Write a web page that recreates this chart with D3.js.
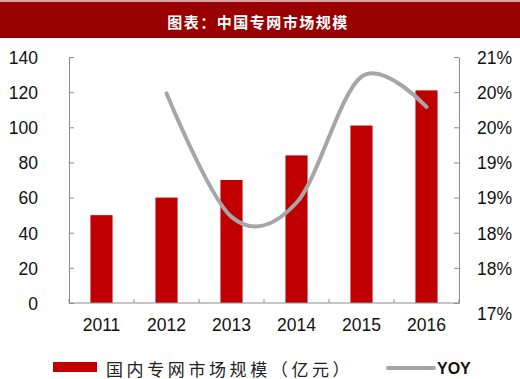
<!DOCTYPE html>
<html><head><meta charset="utf-8">
<script src="https://cdn.jsdelivr.net/npm/d3@7"></script>
<style>body{margin:0;background:#fff}svg{display:block}</style>
</head><body><svg id="c" width="520" height="379"></svg>
<script>
const title = "图表：中国专网市场规模";
const years = ["2011","2012","2013","2014","2015","2016"];
const marketSize = [50,60,70,84,101,121];
const yoyYears = ["2012","2013","2014","2015","2016"];
const yoy = [0.2041,0.1840,0.1863,0.2068,0.2019];
const leftTicks = [0,20,40,60,80,100,120,140];
const rightTicks = [0.17,0.175714,0.181429,0.187143,0.192857,0.198571,0.204286,0.21];
const rightTickLabels = ["17%","18%","18%","19%","19%","20%","20%","21%"];
const legendBar = "国内专网市场规模（亿元）";
const legendLine = "YOY";

const svg = d3.select("#c");
const W = 520, H = 379;
const m = {l:69, r:459, t:57, b:303};

// title bar
svg.append("rect").attr("x",0).attr("y",0).attr("width",W).attr("height",2).attr("fill","#d8a0a0");
svg.append("rect").attr("x",0).attr("y",2).attr("width",W).attr("height",36).attr("fill","#990000");
svg.append("text").attr("x",258).attr("y",21).attr("text-anchor","middle").attr("dominant-baseline","central")
  .attr("fill","#fff").attr("font-family","'Noto Sans CJK SC'").attr("font-weight","bold").attr("font-size",15)
  .attr("letter-spacing",1.5).text(title);

const x = d3.scaleBand().domain(years).range([m.l,m.r]).paddingInner(0.66).paddingOuter(0.33);
const y = d3.scaleLinear().domain([0,140]).range([m.b,m.t]);
const y2 = d3.scaleLinear().domain([0.17,0.21]).range([m.b,m.t]);

const axisColor = "#8c8c8c";
const fontNum = "'Liberation Sans', Arial, sans-serif";

// bars
svg.append("g").selectAll("rect").data(years).join("rect")
  .attr("x",d=>x(d)).attr("width",x.bandwidth())
  .attr("y",(d,i)=>y(marketSize[i])).attr("height",(d,i)=>y(0)-y(marketSize[i]))
  .attr("fill","#c00000");

// left axis
const gl = svg.append("g").attr("transform",`translate(${m.l},0)`)
  .call(d3.axisRight(y).tickValues(leftTicks).tickSize(5).tickSizeOuter(0));
gl.select(".domain").attr("stroke",axisColor);
gl.selectAll(".tick line").attr("stroke",axisColor);
gl.selectAll(".tick text").attr("x",-31).attr("text-anchor","end").attr("dy","0.36em")
  .attr("font-family",fontNum).attr("font-size",17.5).attr("fill","#111");

// right axis
const gr = svg.append("g").attr("transform",`translate(${m.r},0)`)
  .call(d3.axisLeft(y2).tickValues(rightTicks).tickSize(5).tickSizeOuter(0)
    .tickFormat((d,i)=>rightTickLabels[i]));
gr.select(".domain").attr("stroke",axisColor);
gr.selectAll(".tick line").attr("stroke",axisColor);
gr.selectAll(".tick text").attr("x",18).attr("text-anchor","start")
  .attr("dy",(d,i)=> i===0 ? "0.95em" : "0.36em")
  .attr("font-family",fontNum).attr("font-size",17.5).attr("fill","#111");

// bottom axis
const xb = d3.scaleLinear().domain([0,years.length]).range([m.l,m.r]);
const gb = svg.append("g").attr("transform",`translate(0,${m.b})`);
gb.append("line").attr("x1",m.l).attr("x2",m.r).attr("stroke",axisColor);
gb.selectAll("line.t").data(d3.range(years.length+1)).join("line").attr("class","t")
  .attr("x1",d=>xb(d)).attr("x2",d=>xb(d)).attr("y1",0).attr("y2",-4).attr("stroke",axisColor);
gb.selectAll("text").data(years).join("text")
  .attr("x",d=>x(d)+x.bandwidth()/2).attr("y",22).attr("text-anchor","middle").attr("dominant-baseline","central")
  .attr("font-family",fontNum).attr("font-size",17.5).attr("fill","#111").text(d=>d);

// yoy line
const line = d3.line().x((d,i)=>x(yoyYears[i])+x.bandwidth()/2).y(d=>y2(d)).curve(d3.curveCatmullRom.alpha(0));
svg.append("path").datum(yoy).attr("d",line).attr("fill","none")
  .attr("stroke","#a6a6a6").attr("stroke-width",4).attr("stroke-linecap","round");

// legend
const lg = svg.append("g");
lg.append("rect").attr("x",53).attr("y",362).attr("width",44).attr("height",10).attr("fill","#c00000");
lg.append("text").attr("x",106).attr("y",368).attr("dominant-baseline","central")
  .attr("font-family","'Noto Sans CJK SC'").attr("font-size",17).attr("letter-spacing",3.6).attr("fill","#222")
  .text(legendBar);
lg.append("line").attr("x1",388).attr("x2",434).attr("y1",368).attr("y2",368)
  .attr("stroke","#a6a6a6").attr("stroke-width",4).attr("stroke-linecap","round");
lg.append("text").attr("x",437).attr("y",368).attr("dominant-baseline","central")
  .attr("font-family",fontNum).attr("font-size",16).attr("font-weight","bold").attr("fill","#111")
  .text(legendLine);
</script></body></html>
